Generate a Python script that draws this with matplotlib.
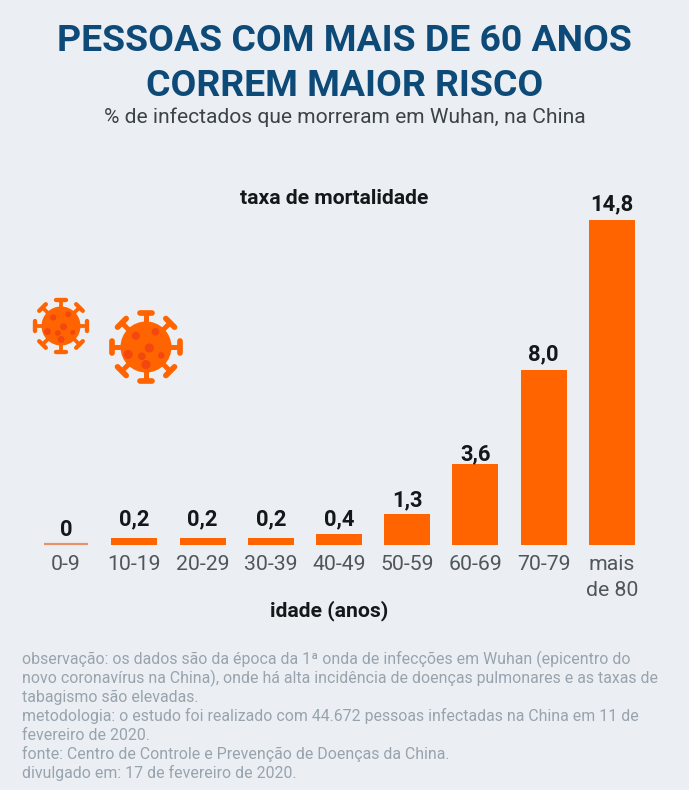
import matplotlib
matplotlib.use("Agg")
import matplotlib.pyplot as plt
import numpy as np
from matplotlib.patches import Circle

W, H = 689, 790
BG = "#ebeff3"
ORANGE = "#ff6400"
DARK_ORANGE = "#f2480f"
BLUE = "#0d4a78"
GREY = "#98a3ad"

age_groups = ["0-9", "10-19", "20-29", "30-39", "40-49", "50-59", "60-69", "70-79", "mais\nde 80"]
# bar lengths, the printed labels round them a little differently
bar_heights = [0, 0.3, 0.3, 0.3, 0.5, 1.4, 3.7, 8.0, 14.8]
value_labels = ["0", "0,2", "0,2", "0,2", "0,4", "1,3", "3,6", "8,0", "14,8"]
label_gaps = [9, 13, 13, 13, 9, 8, 3, 9, 10]

title_lines = ["PESSOAS COM MAIS DE 60 ANOS", "CORREM MAIOR RISCO"]
subtitle = "% de infectados que morreram em Wuhan, na China"
footnote_lines = [
    "observação: os dados são da época da 1ª onda de infecções em Wuhan (epicentro do",
    "novo coronavírus na China), onde há alta incidência de doenças pulmonares e as taxas de",
    "tabagismo são elevadas.",
    "metodologia: o estudo foi realizado com 44.672 pessoas infectadas na China em 11 de",
    "fevereiro de 2020.",
    "fonte: Centro de Controle e Prevenção de Doenças da China.",
    "divulgado em: 17 de fevereiro de 2020.",
]

plt.rcParams["font.family"] = ["Roboto", "DejaVu Sans"]


def draw_virus(ax, cx, cy, r):
    """Draws the little virus icon, r is the body radius in pixels."""
    for a in np.arange(0, 360, 45):
        ca, sa = np.cos(np.radians(a)), np.sin(np.radians(a))
        ax.plot([cx + ca * r * 0.9, cx + ca * r * 1.34], [cy + sa * r * 0.9, cy + sa * r * 1.34],
                color=ORANGE, lw=r * 0.14, solid_capstyle="butt")
        ax.plot([cx + ca * r * 1.34 - sa * r * 0.24, cx + ca * r * 1.34 + sa * r * 0.24],
                [cy + sa * r * 1.34 + ca * r * 0.24, cy + sa * r * 1.34 - ca * r * 0.24],
                color=ORANGE, lw=r * 0.16, solid_capstyle="round")
    ax.add_patch(Circle((cx, cy), r, color=ORANGE, lw=0))
    spots = [(-0.4, -0.44, 0.16), (0.37, -0.6, 0.15), (0.13, 0.04, 0.18), (-0.7, 0.29, 0.18),
             (-0.16, 0.36, 0.15), (0.6, 0.33, 0.13), (0.0, 0.69, 0.18)]
    for dx, dy, s in spots:
        ax.add_patch(Circle((cx + dx * r, cy + dy * r), s * r, color=DARK_ORANGE, lw=0))


fig = plt.figure(figsize=(W / 100, H / 100), dpi=100, facecolor=BG)

# bars, axes placed so the baseline falls at y=545px
ax = fig.add_axes([32 / W, 1 - 545 / H, 614 / W, 351 / H])
ax.set_facecolor("none")
x = np.arange(len(age_groups))
ax.bar(x, bar_heights, width=0.675, color=ORANGE)
ax.plot([-0.32, 0.32], [0.05, 0.05], color="#e8926a", lw=1.6, solid_capstyle="butt", clip_on=False)
ax.set_xlim(-0.5, 8.5)
ax.set_ylim(0, 16)
ax.set_yticks([])
ax.set_xticks(x)
ax.set_xticklabels(age_groups, fontsize=15.3, color="#4f565c", linespacing=1.45)
ax.tick_params(axis="x", length=0, pad=7.5)
for s in ax.spines.values():
    s.set_visible(False)
for xi, v, lab, gap in zip(x, bar_heights, value_labels, label_gaps):
    ax.annotate(lab, (xi, v), xytext=(0, gap), textcoords="offset pixels",
                ha="center", va="baseline", fontsize=15.8, fontweight="bold", color="#15181b")

# overlay in pixel coordinates for texts and icons
ov = fig.add_axes([0, 0, 1, 1])
ov.set_xlim(0, W)
ov.set_ylim(H, 0)
ov.axis("off")
ov.patch.set_alpha(0)

ov.text(344.5, 41, title_lines[0], ha="center", va="center", fontsize=26.9, fontweight="bold", color=BLUE)
ov.text(344.5, 86, title_lines[1], ha="center", va="center", fontsize=26.9, fontweight="bold", color=BLUE)
ov.text(344.5, 117, subtitle, ha="center", va="center", fontsize=15.1, color="#3c4348")
ov.text(334, 199, "taxa de mortalidade", ha="center", va="center", fontsize=15.2, fontweight="bold", color="#15181b")
ov.text(329, 611, "idade (anos)", ha="center", va="center", fontsize=15.2, fontweight="bold", color="#15181b")

for i, line in enumerate(footnote_lines):
    ov.text(22, 659 + i * 19, line, ha="left", va="center", fontsize=11.4, color=GREY)

draw_virus(ov, 61, 326, 19.5)
draw_virus(ov, 146, 347, 25.5)

fig.savefig("out.png", dpi=100, facecolor=BG)
